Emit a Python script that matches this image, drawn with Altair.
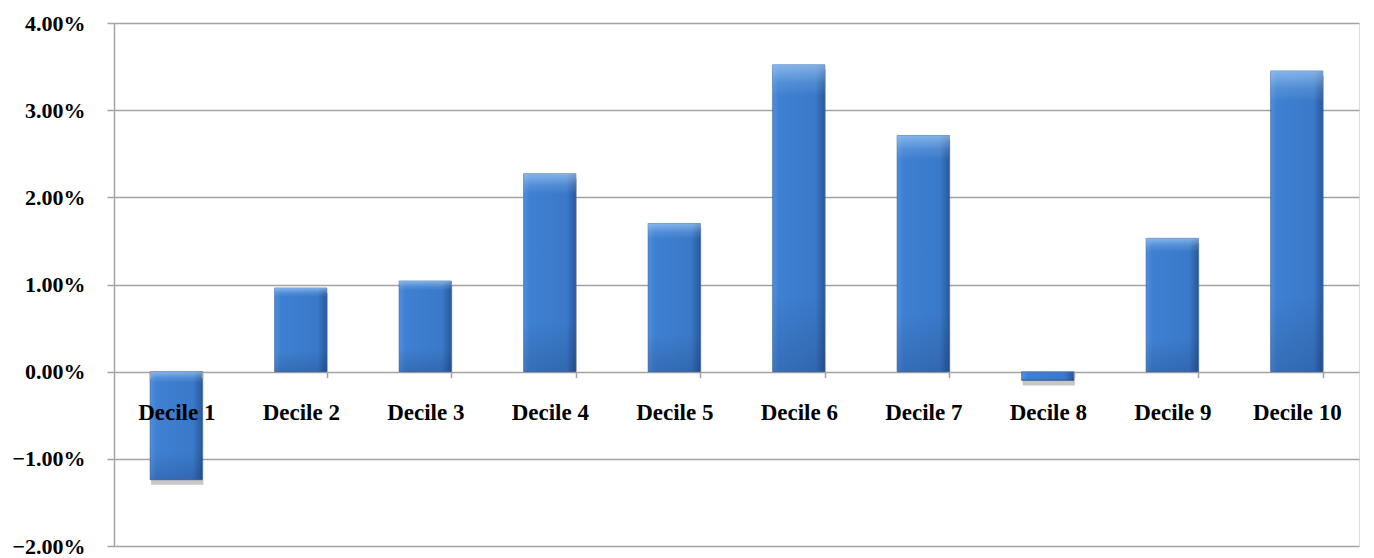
import altair as alt
import pandas as pd

categories = ["Decile 1", "Decile 2", "Decile 3", "Decile 4", "Decile 5",
              "Decile 6", "Decile 7", "Decile 8", "Decile 9", "Decile 10"]
values = [-0.0124, 0.0096, 0.0104, 0.0227, 0.0170,
          0.0352, 0.0271, -0.0010, 0.0153, 0.0345]
y_ticks = [-0.02, -0.01, 0.0, 0.01, 0.02, 0.03, 0.04]

df = pd.DataFrame({"cat": categories, "val": values})

W, H = 1245, 523
Y_MIN, Y_MAX = -0.02, 0.04
zero_from_bottom = H * (0 - Y_MIN) / (Y_MAX - Y_MIN)

FONT = "Liberation Serif"
GRID = "#a3a3a3"

x_enc = alt.X("cat:N", sort=categories, title=None,
              scale=alt.Scale(paddingInner=0.58, paddingOuter=0.29),
              axis=alt.Axis(labelAngle=0, labelFont=FONT, labelFontSize=23,
                            labelFontWeight="bold", labelColor="black",
                            labelPadding=24, tickSize=6, tickColor=GRID,
                            tickWidth=1.5, tickBand="extent", domain=False,
                            grid=False, offset=-zero_from_bottom, zindex=2))

y_enc = alt.Y("val:Q", title=None,
              scale=alt.Scale(domain=[Y_MIN, Y_MAX], nice=False),
              axis=alt.Axis(values=y_ticks, format=".2%", labelFont=FONT,
                            labelFontSize=22, labelFontWeight="bold",
                            labelColor="black", labelPadding=22, tickSize=7,
                            tickColor=GRID, tickWidth=1.5, domainColor=GRID,
                            domainWidth=1.5, gridColor=GRID, gridWidth=1.5,
                            zindex=0))

base = alt.Chart(df)

shadow = base.mark_bar(color="#000000", opacity=0.22, yOffset=5, xOffset=1).encode(
    x=x_enc, y=y_enc, y2=alt.datum(0))

main = base.mark_bar(
    color=alt.Gradient(
        gradient="linear", x1=0, x2=1, y1=0, y2=0,
        stops=[alt.GradientStop(offset=0, color="#4f8fdc"),
               alt.GradientStop(offset=0.12, color="#3e80d2"),
               alt.GradientStop(offset=0.82, color="#3a79c9"),
               alt.GradientStop(offset=1, color="#28599c")]),
    stroke="#2a5a9a", strokeWidth=0.6).encode(
    x=x_enc, y=y_enc, y2=alt.datum(0))

overlay = base.mark_bar(
    color=alt.Gradient(
        gradient="linear", x1=0, x2=0, y1=0, y2=1,
        stops=[alt.GradientStop(offset=0, color="rgba(190,225,255,0.55)"),
               alt.GradientStop(offset=0.06, color="rgba(190,225,255,0.15)"),
               alt.GradientStop(offset=0.1, color="rgba(255,255,255,0)"),
               alt.GradientStop(offset=0.75, color="rgba(0,0,0,0)"),
               alt.GradientStop(offset=1, color="rgba(0,0,40,0.15)")])).encode(
    x=x_enc, y=y_enc, y2=alt.datum(0))

chart = alt.layer(shadow, main, overlay).properties(
    width=W, height=H,
    autosize=alt.AutoSizeParams(type="none"),
    padding={"left": 106, "top": 15, "right": 7, "bottom": 12},
).configure_view(stroke=None).configure(background="white")

chart.save("out.html", embed_options={"renderer": "svg", "actions": False})
